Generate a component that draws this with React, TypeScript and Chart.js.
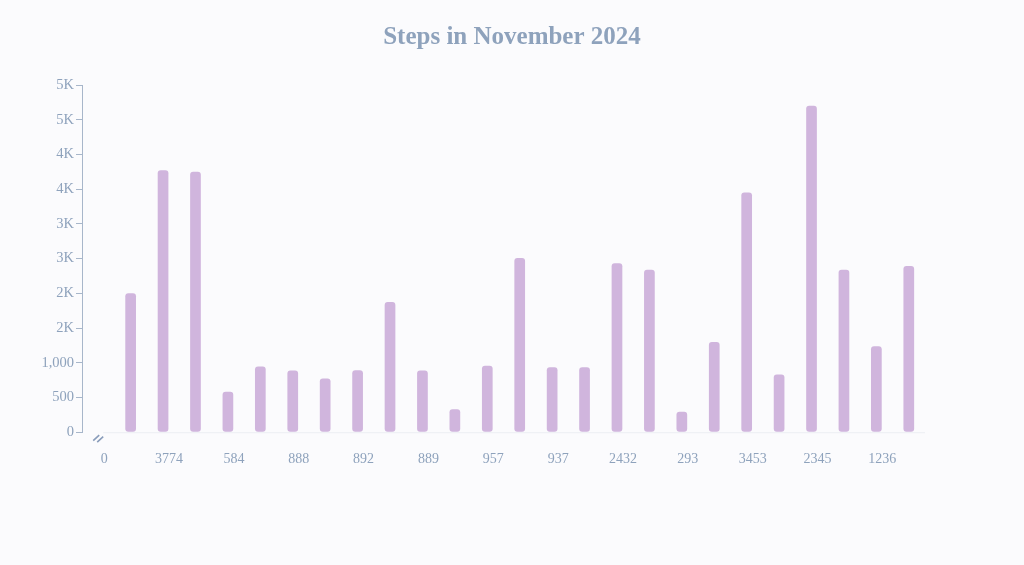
import React, { useEffect, useRef } from "react";
import { Chart, registerables } from "chart.js";

Chart.register(...registerables);

const title = "Steps in November 2024";
const categoryLabels = [
  "0", "2000", "3774", "3750", "584", "945", "888", "775", "892", "1875", "889", "330", "957",
  "2510", "937", "935", "2432", "2340", "293", "1300", "3453", "830", "2345", "2340", "1236", "2395",
];
const stepValues = [
  0, 2000, 3774, 3750, 584, 945, 888, 775, 892, 1875, 889, 330, 957,
  2510, 937, 935, 2432, 2340, 293, 1300, 3453, 830, 4700, 2340, 1236, 2395,
];
const yMax = 5000;
const yStep = 500;

const TEXT = "#8ea2bc";
const AXIS = "#a7b6ca";
const BAR = "#d0b5dd";
const BG = "#fbfbfd";
const SERIF = "'Liberation Serif', 'Times New Roman', serif";

const decorations = {
  id: "decorations",
  afterDraw(chart: any) {
    const { ctx, chartArea, scales, width } = chart;
    const x0 = scales.x.getPixelForValue(0);
    const y = chartArea.bottom;
    ctx.save();
    // title
    ctx.fillStyle = TEXT;
    ctx.font = `bold 25px ${SERIF}`;
    ctx.textAlign = "center";
    ctx.textBaseline = "alphabetic";
    ctx.fillText(title, width / 2, 43.5);
    // faint baseline
    ctx.strokeStyle = "#eceef3";
    ctx.lineWidth = 1;
    ctx.beginPath();
    ctx.moveTo(x0 + 5, y + 0.5);
    ctx.lineTo(chartArea.right, y + 0.5);
    ctx.stroke();
    // break mark
    ctx.strokeStyle = "#8a9dbb";
    ctx.lineWidth = 1.6;
    ctx.beginPath();
    ctx.moveTo(x0 - 5, y + 8.5);
    ctx.lineTo(x0 + 1, y + 3);
    ctx.moveTo(x0 - 1, y + 10);
    ctx.lineTo(x0 + 5, y + 4.5);
    ctx.stroke();
    ctx.restore();
  },
};

export default function App() {
  const ref = useRef<HTMLCanvasElement | null>(null);
  useEffect(() => {
    document.body.style.margin = "0";
    document.body.style.background = BG;
    const chart = new Chart(ref.current as HTMLCanvasElement, {
      type: "bar",
      data: {
        labels: categoryLabels,
        datasets: [
          {
            data: stepValues,
            backgroundColor: BAR,
            borderRadius: 3,
            borderSkipped: false,
            barPercentage: 0.33,
            categoryPercentage: 1,
          },
        ],
      },
      options: {
        responsive: false,
        animation: false,
        layout: { padding: { left: 0, right: 99, top: 85, bottom: 78 } },
        plugins: {
          legend: { display: false },
          tooltip: { enabled: false },
          title: { display: false },
        },
        scales: {
          x: {
            offset: true,
            grid: { display: false, drawTicks: false },
            border: { display: false },
            ticks: {
              autoSkip: false,
              maxRotation: 0,
              labelOffset: 6,
              padding: 19,
              color: TEXT,
              font: { family: SERIF, size: 14 },
              callback: (_v: any, i: number) => (i % 2 === 0 ? categoryLabels[i] : ""),
            },
          },
          y: {
            min: 0,
            max: yMax,
            afterFit: (s: any) => {
              s.width = 82;
            },
            grid: { drawOnChartArea: false, drawTicks: true, tickLength: 6, color: AXIS },
            border: { display: true, color: AXIS, width: 1 },
            ticks: {
              stepSize: yStep,
              padding: 2,
              color: TEXT,
              font: { family: SERIF, size: 14.5 },
              callback: (v: any) => {
                const n = Number(v);
                if (n >= 1500) return Math.round(n / 1000) + "K";
                return n.toLocaleString("en-US");
              },
            },
          },
        },
      },
      plugins: [decorations],
    });
    return () => chart.destroy();
  }, []);
  return (
    <div style={{ width: 1024, height: 565, background: BG }}>
      <canvas ref={ref} width={1024} height={565} />
    </div>
  );
}
